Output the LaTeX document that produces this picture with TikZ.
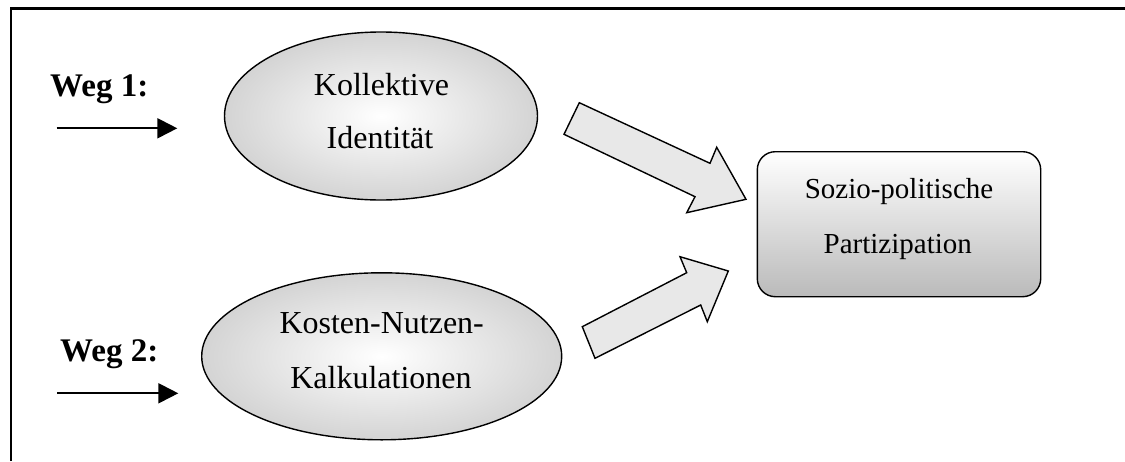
\documentclass[tikz,border=0pt]{standalone}
\usepackage{fontspec}
\setmainfont{Liberation Serif}
\usetikzlibrary{shapes.geometric,arrows.meta}
\tikzset{
  ellbox/.style={shape=ellipse, draw=black, line width=1.4pt, inner sep=0pt,
    inner color=white, outer color=black!17},
  partbox/.style={draw=black, line width=1.4pt, rounded corners=18pt, inner sep=0pt,
    top color=white, bottom color=black!27},
  elltext/.style={anchor=base, inner sep=0pt, font=\fontsize{32}{38}\selectfont},
  recttext/.style={anchor=base, inner sep=0pt, font=\fontsize{29}{35}\selectfont},
  wegtext/.style={anchor=base west, inner sep=0pt, font=\fontsize{33}{40}\selectfont\bfseries},
  wegarrow/.style={line width=2pt, -{Triangle[length=20pt,width=20pt]}},
  blockarrow/.style={draw=black, line width=1.4pt, fill=black!9, line join=miter},
  frame/.style={line width=2.7pt}
}
\begin{document}
\begin{tikzpicture}[x=1pt,y=-1pt]
\useasboundingbox (0,0) rectangle (1125,461);
% frame (top and left edges)
\draw[frame] (11,461) -- (11,8.3) -- (1125,8.3);

% ellipses
\node[ellbox, minimum width=313pt, minimum height=168pt] (e1) at (381,116) {};
\node[ellbox, minimum width=360pt, minimum height=167pt] (e2) at (381.7,356.3) {};
\node[elltext] (e1a) at (381.5,95) {Kollektive};
\node[elltext] (e1b) at (380,148.3) {Identität};
\node[elltext] (e2a) at (381.7,333.3) {Kosten-Nutzen-};
\node[elltext] (e2b) at (381,388.3) {Kalkulationen};

% rectangle
\node[partbox, minimum width=283.4pt, minimum height=145pt] (r) at (899,224.2) {};
\node[recttext] (ra) at (899,198.3) {Sozio-politische};
\node[recttext] (rb) at (897.8,253) {Partizipation};

% Weg labels and arrows
\node[wegtext] (w1) at (50,96.7) {Weg 1:};
\node[wegtext] (w2) at (60,361.7) {Weg 2:};
\coordinate (a1s) at (56.7,128.3);
\coordinate (a1e) at (177.3,128.3);
\coordinate (a2s) at (57.3,393.3);
\coordinate (a2e) at (178.3,393.3);
\draw[wegarrow] (a1s) -- (a1e);
\draw[wegarrow] (a2s) -- (a2e);

% block arrows
\draw[blockarrow] (579.3,102.7) -- (710,163.3) -- (716.7,147.3) -- (746,199.3)
  -- (686.7,212.7) -- (695,196.7) -- (564,134.3) -- cycle;
\draw[blockarrow] (595,358.3) -- (700.7,305) -- (707.3,321.7) -- (728.3,271)
  -- (680,256.7) -- (686.7,272.7) -- (582.3,326.7) -- cycle;
\end{tikzpicture}
\end{document}
